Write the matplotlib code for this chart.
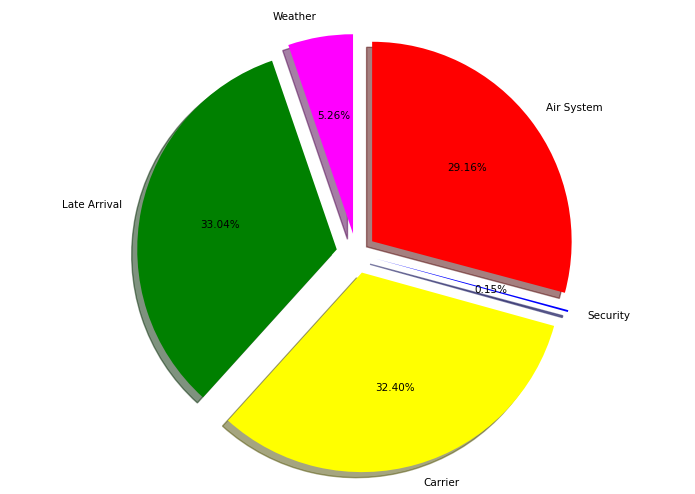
import matplotlib
matplotlib.use('Agg')
import matplotlib.pyplot as plt

labels = ["Weather", "Late Arrival", "Carrier", "Security", "Air System"]
values = [5.26, 33.04, 32.40, 0.15, 29.16]
colors = ["magenta", "green", "yellow", "blue", "red"]
explode = [0.1, 0.1, 0.1, 0.1, 0.1]

fig, ax = plt.subplots(figsize=(6.95, 4.94), dpi=100)
ax.pie(values, labels=labels, colors=colors, explode=explode,
       autopct="%1.2f%%", shadow=True, startangle=90,
       textprops={"fontsize": 7.5})
ax.axis("equal")
plt.subplots_adjust(left=0.03, right=0.99, top=0.975, bottom=0.0)
plt.savefig("out.png")
